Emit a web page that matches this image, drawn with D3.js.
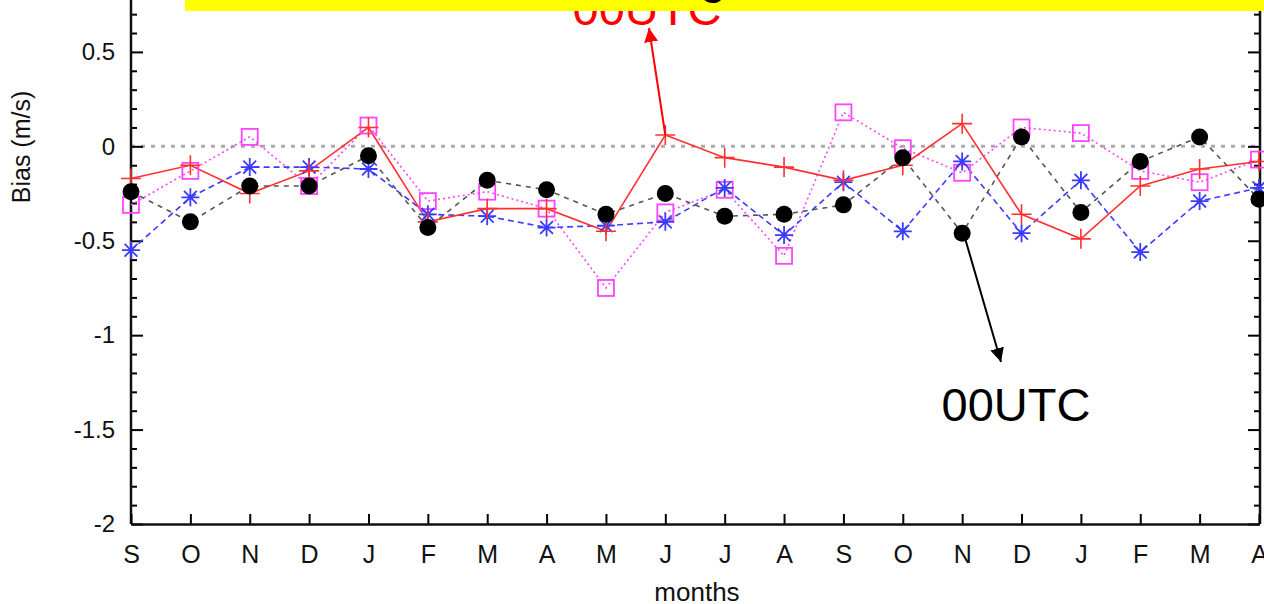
<!DOCTYPE html>
<html><head><meta charset="utf-8">
<script src="https://cdn.jsdelivr.net/npm/d3@7"></script>
<style>
html,body{margin:0;padding:0;background:#fff;}
svg{display:block;font-family:"Liberation Sans",Arial,Helvetica,sans-serif;}
</style></head>
<body>
<svg id="c" width="1264" height="604"></svg>
<script>
const months = ["S","O","N","D","J","F","M","A","M","J","J","A","S","O","N","D","J","F","M","A"];
const redPlus   = [-0.17,-0.10,-0.25,-0.13,0.10,-0.40,-0.33,-0.33,-0.45,0.06,-0.06,-0.11,-0.18,-0.10,0.12,-0.36,-0.49,-0.21,-0.12,-0.08];
const blackDots = [-0.24,-0.40,-0.21,-0.21,-0.05,-0.43,-0.18,-0.23,-0.36,-0.25,-0.37,-0.36,-0.31,-0.06,-0.46,0.05,-0.35,-0.08,0.05,-0.28];
const blueStars = [-0.55,-0.27,-0.11,-0.11,-0.12,-0.36,-0.37,-0.43,-0.42,-0.40,-0.22,-0.47,-0.19,-0.45,-0.08,-0.46,-0.18,-0.56,-0.29,-0.22];
const pinkSquares = [-0.31,-0.13,0.05,-0.21,0.11,-0.29,-0.24,-0.33,-0.75,-0.35,-0.23,-0.58,0.18,-0.01,-0.14,0.10,0.07,-0.13,-0.19,-0.07];
const yMajorTicks = [-2,-1.5,-1,-0.5,0,0.5];
const yTickLabels = ["-2","-1.5","-1","-0.5","0","0.5"];
const yLabel = "Bias (m/s)";
const xLabel = "months";
const annotationText = "00UTC";

const svg = d3.select("#c");
const L = 131, R = 1260, B = 524;
const x = d3.scaleLinear().domain([0, months.length - 1]).range([L, 1259]);
const y = d3.scaleLinear().domain([-2, 1]).range([B, -42.5]);
const idx = d3.range(months.length);

// zero line
svg.append("line").attr("x1", L).attr("x2", R).attr("y1", y(0)).attr("y2", y(0))
  .attr("stroke", "#aaa").attr("stroke-width", 3).attr("stroke-dasharray", "4,6");

// minor ticks
const minor = d3.range(-20, 8).map(d => d / 10).filter(v => Math.abs(v*2 - Math.round(v*2)) > 1e-6);
const gMinL = svg.append("g").attr("transform", `translate(${L},0)`)
  .call(d3.axisLeft(y).tickValues(minor).tickSizeInner(-6).tickSizeOuter(0).tickFormat(""));
const gMinR = svg.append("g").attr("transform", `translate(${R},0)`)
  .call(d3.axisRight(y).tickValues(minor).tickSizeInner(-6).tickSizeOuter(0).tickFormat(""));
[gMinL, gMinR].forEach(g => { g.select(".domain").remove(); g.selectAll("line").attr("stroke", "#000").attr("stroke-width", 2); });

// left axis
const gL = svg.append("g").attr("transform", `translate(${L},0)`)
  .call(d3.axisLeft(y).tickValues(yMajorTicks).tickSizeInner(-12).tickSizeOuter(0).tickPadding(16)
    .tickFormat((d, i) => yTickLabels[i]));
gL.selectAll("text").attr("font-size", 24).attr("fill", "#111").attr("font-family", "Liberation Sans, Arial");
gL.select(".domain").attr("d", `M0,${B}V-45`);
// right axis
const gR = svg.append("g").attr("transform", `translate(${R},0)`)
  .call(d3.axisRight(y).tickValues(yMajorTicks).tickSizeInner(-12).tickSizeOuter(0).tickFormat(""));
gR.select(".domain").attr("d", `M0,${B}V-45`);
// bottom axis
const gB = svg.append("g").attr("transform", `translate(0,${B})`)
  .call(d3.axisBottom(x).tickValues(idx).tickSizeInner(-10).tickSizeOuter(0).tickPadding(21)
    .tickFormat(i => months[i]));
gB.selectAll("text").attr("font-size", 25).attr("fill", "#111").attr("font-family", "Liberation Sans, Arial");
[gL, gR, gB].forEach(g => {
  g.selectAll("line").attr("stroke", "#000").attr("stroke-width", 2);
  g.select(".domain").attr("stroke", "#111").attr("stroke-width", 2.5);
});

// series lines
function line(vals) {
  return d3.line().x((d, i) => x(i)).y(d => y(d))(vals);
}
const series = [
  { vals: pinkSquares, color: "#ff44ff", dash: "2,3", mark: "square" },
  { vals: blueStars, color: "#3b3bff", dash: "6,4", mark: "star" },
  { vals: redPlus, color: "#ff3030", dash: null, mark: "plus" },
  { vals: blackDots, color: "#555", dash: "5,5", mark: "dot" }
];
series.forEach(s => {
  svg.append("path").attr("d", line(s.vals)).attr("fill", "none")
    .attr("stroke", s.color).attr("stroke-width", 1.6)
    .attr("stroke-dasharray", s.dash);
});
series.forEach(s => {
  const g = svg.append("g");
  s.vals.forEach((v, i) => {
    const cx = x(i), cy = y(v);
    if (s.mark === "square") {
      g.append("rect").attr("x", cx - 8).attr("y", cy - 8).attr("width", 16).attr("height", 16)
        .attr("fill", "none").attr("stroke", "#ff44ff").attr("stroke-width", 1.8);
    } else if (s.mark === "star") {
      const r = 9, dd = 6.4;
      g.append("path").attr("d", `M${cx-r},${cy}H${cx+r}M${cx},${cy-r}V${cy+r}M${cx-dd},${cy-dd}L${cx+dd},${cy+dd}M${cx-dd},${cy+dd}L${cx+dd},${cy-dd}`)
        .attr("stroke", "#3b3bff").attr("stroke-width", 1.8).attr("fill", "none");
    } else if (s.mark === "plus") {
      const r = 10;
      g.append("path").attr("d", `M${cx-r},${cy}H${cx+r}M${cx},${cy-r}V${cy+r}`)
        .attr("stroke", "#ff3030").attr("stroke-width", 1.6).attr("fill", "none");
    } else {
      g.append("circle").attr("cx", cx).attr("cy", cy).attr("r", 8.5).attr("fill", "#000");
    }
  });
});

// arrows
const defs = svg.append("defs");
[["arrRed", "#ff0000"], ["arrBlk", "#000"]].forEach(([id, c]) => {
  defs.append("marker").attr("id", id).attr("viewBox", "0 0 10 10").attr("refX", 10).attr("refY", 5)
    .attr("markerWidth", 14).attr("markerHeight", 14).attr("markerUnits", "userSpaceOnUse").attr("orient", "auto")
    .append("path").attr("d", "M0,0L10,5L0,10Z").attr("fill", c);
});
svg.append("line").attr("x1", x(9)).attr("y1", y(redPlus[9])).attr("x2", 649).attr("y2", 28)
  .attr("stroke", "#ff0000").attr("stroke-width", 2).attr("marker-end", "url(#arrRed)");
svg.append("line").attr("x1", x(14) + 2).attr("y1", y(blackDots[14]) + 2).attr("x2", 1001).attr("y2", 362)
  .attr("stroke", "#000").attr("stroke-width", 2).attr("marker-end", "url(#arrBlk)");

// annotation texts
svg.append("text").attr("x", 647).attr("y", 25).attr("text-anchor", "middle")
  .attr("font-size", 47).attr("fill", "#ff0000").text(annotationText);
svg.append("text").attr("x", 1016).attr("y", 421).attr("text-anchor", "middle")
  .attr("font-size", 47).attr("fill", "#000").text(annotationText);

// yellow box over top
svg.append("rect").attr("x", 185).attr("y", -20).attr("width", 1100).attr("height", 31).attr("fill", "#ffff00");
svg.append("text").attr("x", 713).attr("y", -7).attr("text-anchor", "middle")
  .attr("font-size", 47).attr("fill", "#000").text("g");

// axis titles
svg.append("text").attr("transform", "translate(30,147) rotate(-90)").attr("text-anchor", "middle")
  .attr("font-size", 25).attr("fill", "#111").text(yLabel);
svg.append("text").attr("x", 697).attr("y", 601).attr("text-anchor", "middle")
  .attr("font-size", 26).attr("fill", "#111").text(xLabel);
</script>
</body></html>
